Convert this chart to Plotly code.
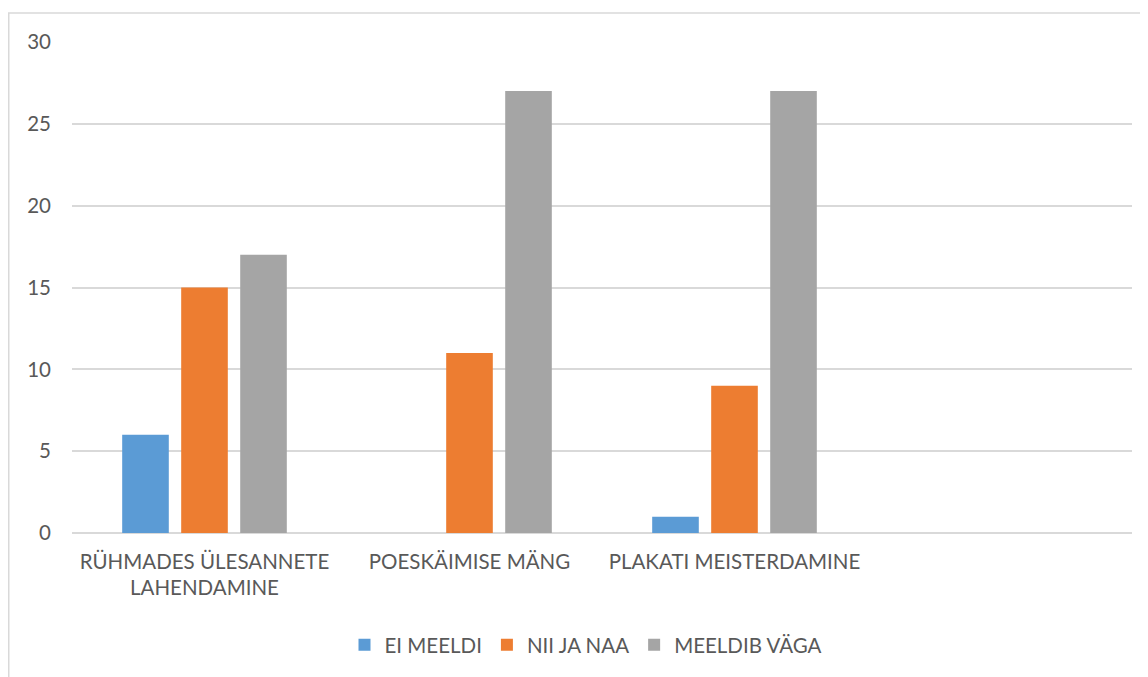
import plotly.graph_objects as go

categories = ["RÜHMADES ÜLESANNETE<br>LAHENDAMINE", "POESKÄIMISE MÄNG", "PLAKATI MEISTERDAMINE", " "]
series_names = ["EI MEELDI", "NII JA NAA", "MEELDIB VÄGA"]
ei_meeldi = [6, 0, 1, None]
nii_ja_naa = [15, 11, 9, None]
meeldib_vaga = [17, 27, 27, None]
colors = ["#5B9BD5", "#ED7D31", "#A5A5A5"]
y_ticks = [0, 5, 10, 15, 20, 25, 30]

fig = go.Figure()
for name, vals, col in zip(series_names, [ei_meeldi, nii_ja_naa, meeldib_vaga], colors):
    fig.add_trace(go.Bar(x=categories, y=vals, name=name, marker=dict(color=col, line=dict(width=0))))

# page is offset by the 8px default body margin
W, H = 1140, 669
ml, mr, mt, mb = 64, 16, 34, 144
pw = W - ml - mr
ph = H - mt - mb
FS = 20.5

fig.update_layout(
    width=W, height=H,
    margin=dict(l=ml, r=mr, t=mt, b=mb, autoexpand=False),
    paper_bgcolor="white", plot_bgcolor="white",
    barmode="group", bargap=0.332, bargroupgap=0.21,
    font=dict(family="Lato, Open Sans, sans-serif", size=FS, color="#595959"),
    showlegend=True,
    legend=dict(orientation="h", x=(578 - ml) / pw, xanchor="center",
                y=(mt + ph - 637) / ph, yanchor="middle",
                font=dict(size=FS, color="#595959"), itemwidth=30,
                traceorder="normal"),
    xaxis=dict(type="category", showgrid=False, showline=False, ticks="", automargin=False,
               tickfont=dict(size=FS, color="#595959"), ticklabelstandoff=14),
    yaxis=dict(range=[0, 30], tickvals=y_ticks, showgrid=True, gridcolor="#d9d9d9",
               gridwidth=1.5, zeroline=True, zerolinecolor="#d9d9d9", zerolinewidth=1.5,
               automargin=False,
               ticks="", tickfont=dict(size=FS, color="#595959"), ticklabelstandoff=20),
    shapes=[dict(type="rect", xref="paper", yref="paper",
                 x0=(0.75 - ml) / pw, x1=1.2, y0=-0.6, y1=(mt + ph - 5) / ph,
                 line=dict(color="#d9d9d9", width=1.5), layer="below")],
)

fig.write_html("out.html")
